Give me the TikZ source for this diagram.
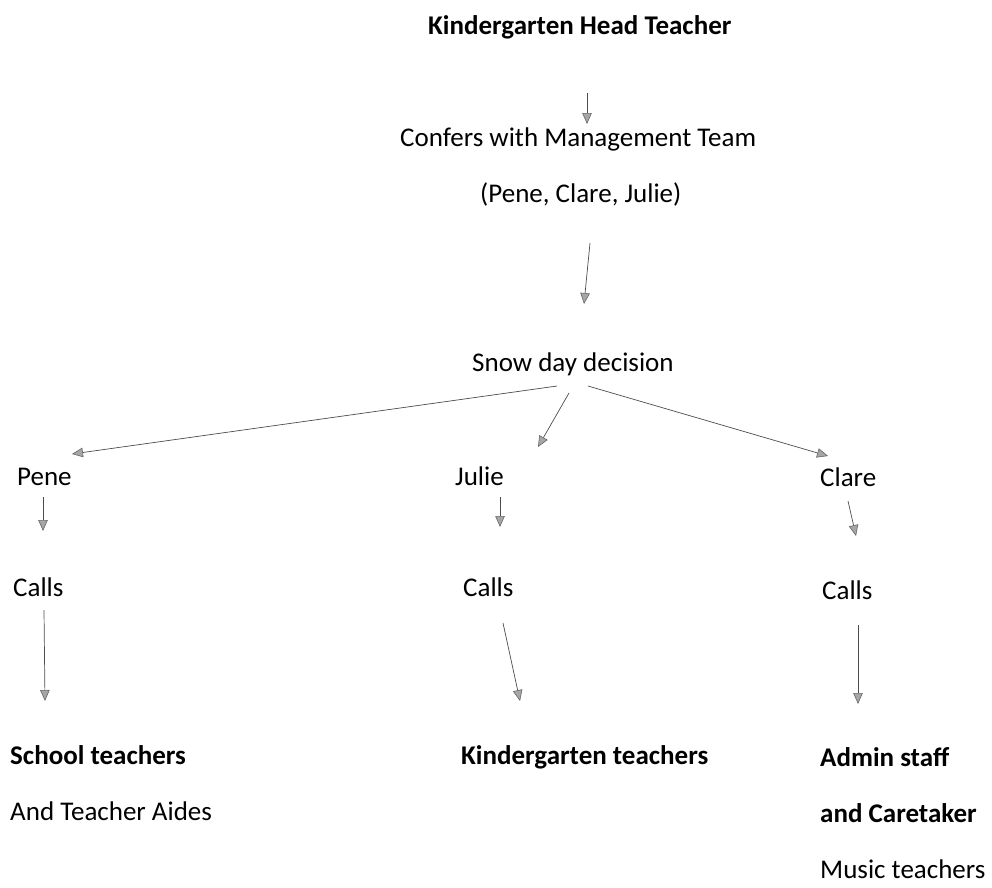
\documentclass[tikz,border=0pt]{standalone}
\usepackage{fontspec}
\setmainfont{Carlito}
\usetikzlibrary{arrows.meta}
\tikzset{
  lbl/.style={anchor=base west, inner sep=0pt, font=\fontsize{27}{32}\selectfont},
  blbl/.style={lbl, font=\fontsize{27}{32}\selectfont\bfseries},
  arr/.style={draw=black!70, line width=0.7pt,
    -{Triangle[length=11pt,width=9.5pt,fill=black!35,color=black!60,line width=0.6pt]}}
}
\begin{document}
\begin{tikzpicture}[x=1pt,y=-1pt]
\useasboundingbox (0,0) rectangle (992,887);
% texts
\node[blbl] (kht) at (428,34) {Kindergarten Head Teacher};
\node[lbl] (conf) at (400,146) {Confers with Management Team};
\node[lbl] (names) at (480,202) {(Pene, Clare, Julie)};
\node[lbl] (snow) at (472,371) {Snow day decision};
\node[lbl] (pene) at (17,485) {Pene};
\node[lbl] (julie) at (455,485) {Julie};
\node[lbl] (clare) at (820,486) {Clare};
\node[lbl] (callsP) at (13,596) {Calls};
\node[lbl] (callsJ) at (463,596) {Calls};
\node[lbl] (callsC) at (822,599) {Calls};
\node[blbl] (school) at (10,764) {School teachers};
\node[lbl] (aides) at (10,820) {And Teacher Aides};
\node[blbl] (kteach) at (461,764) {Kindergarten teachers};
\node[blbl] (admin) at (820,766) {Admin staff};
\node[blbl] (caret) at (820,822) {and Caretaker};
\node[lbl] (music) at (820,878) {Music teachers};
% connector end points
\coordinate (a1s) at (587,93);  \coordinate (a1e) at (587,124);
\coordinate (a2s) at (590,243); \coordinate (a2e) at (584,304);
\coordinate (a3s) at (557,386); \coordinate (a3e) at (72,454);
\coordinate (a4s) at (569,393); \coordinate (a4e) at (538,447);
\coordinate (a5s) at (588,386); \coordinate (a5e) at (828,456);
\coordinate (a6s) at (43,497);  \coordinate (a6e) at (43,531);
\coordinate (a7s) at (500,497); \coordinate (a7e) at (500,527);
\coordinate (a8s) at (848,501); \coordinate (a8e) at (856,536);
\coordinate (a9s) at (44,610);  \coordinate (a9e) at (45,701);
\coordinate (a10s) at (503,623); \coordinate (a10e) at (520,701);
\coordinate (a11s) at (858,625); \coordinate (a11e) at (858,704);
\foreach \i in {1,...,11} \draw[arr] (a\i s) -- (a\i e);
\end{tikzpicture}
\end{document}
